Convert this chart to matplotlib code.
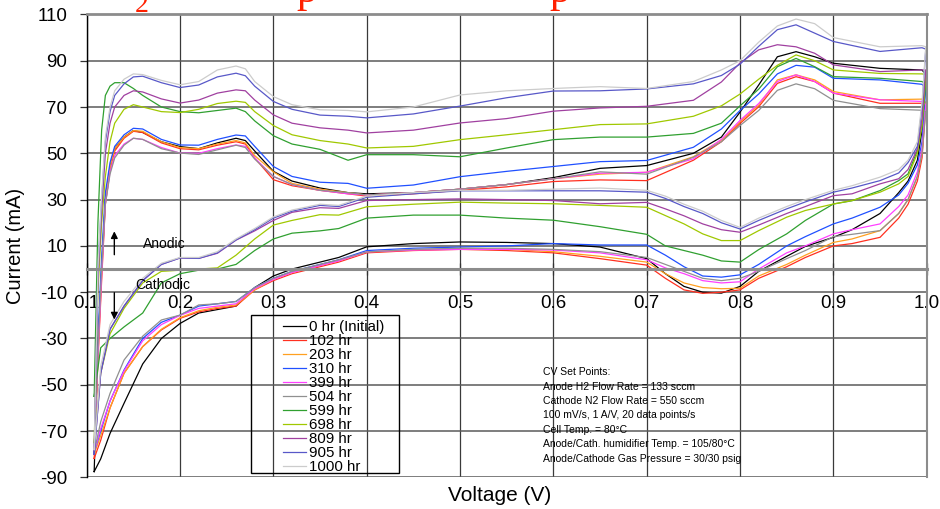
import matplotlib
matplotlib.use("Agg")
import matplotlib.pyplot as plt
from matplotlib.patches import Rectangle

plt.rcParams["font.family"] = ["Liberation Sans", "DejaVu Sans"]
plt.rcParams["axes.unicode_minus"] = False

# sweep voltages (V): forward (anodic) and reverse (cathodic)
V_FWD = [0.112, 0.116, 0.12, 0.125, 0.13, 0.14, 0.15, 0.16, 0.18, 0.2, 0.22, 0.24,
         0.26, 0.27, 0.28, 0.3, 0.32, 0.35, 0.38, 0.4, 0.45, 0.5, 0.55, 0.6, 0.65,
         0.7, 0.75, 0.78, 0.8, 0.82, 0.84, 0.86, 0.88, 0.9, 0.95, 0.995]
V_REV = [0.999, 0.995, 0.99, 0.98, 0.97, 0.95, 0.92, 0.9, 0.87, 0.85, 0.82, 0.8,
         0.78, 0.76, 0.74, 0.72, 0.7, 0.65, 0.6, 0.55, 0.5, 0.45, 0.4, 0.37, 0.35,
         0.32, 0.3, 0.28, 0.26, 0.24, 0.22, 0.2, 0.18, 0.16, 0.14, 0.125, 0.115, 0.108]

labels = ["0 hr (Initial)", "102 hr", "203 hr", "310 hr", "399 hr", "504 hr",
          "599 hr", "698 hr", "809 hr", "905 hr", "1000 hr"]
colors = ["#000000", "#ff3020", "#ffa020", "#2050ff", "#ff40ff", "#909090",
          "#30a030", "#a0c800", "#a040a0", "#5858c8", "#cccccc"]

# anodic branch currents (mA)
fwd_0 = [-35, 0, 30, 44, 52, 57, 59.8, 59, 55, 52.9, 52, 54.5, 56.5, 55.5, 51, 42.2, 38, 35,
         33, 32.5, 33, 34.5, 36.5, 39.5, 43.5, 44.7, 50, 57, 67.8, 79.5, 91.7, 93.9, 91.7,
         88.9, 86.7, 86]
fwd_102 = [-40, -5, 28, 43, 51, 56.5, 59.5, 59, 54.5, 52, 51.5, 53.5, 55, 54, 48, 38.6, 36,
           34, 32.5, 31.5, 32.5, 34, 35.5, 37.8, 38.5, 38.2, 47, 55, 62.9, 70.1, 80.2, 83.1,
           81, 76, 71.6, 71.6]
fwd_203 = [-38, -2, 30, 44, 52, 57, 59.8, 59.5, 55, 52.5, 52, 54, 55.5, 54.5, 49, 42, 37,
           34.5, 33, 32, 33, 34.5, 36.5, 39, 41, 41.8, 48.5, 55.7, 63.6, 70.8, 81.7, 83.9,
           81.7, 76.7, 73.1, 73.4]
fwd_310 = [-30, 5, 33, 46, 53, 58, 60.8, 60.5, 56, 53.6, 53.5, 56, 57.9, 57.5, 53, 44.3, 40,
           37.5, 37, 34.9, 36.3, 39.9, 42.2, 44.3, 46.4, 46.9, 52.6, 60.5, 68.5, 75.6, 84.3,
           88, 87.2, 82.4, 81.7, 79.8]
fwd_399 = [-38, -3, 28, 42, 49, 54, 56.5, 56, 52.5, 50.1, 50, 52, 53.6, 53, 48, 40, 36.5, 34,
           32.5, 32, 33, 34.5, 36.5, 39, 41.4, 41.8, 47.6, 56, 64.2, 71.5, 81, 83.9, 81, 76,
           73.1, 72.4]
fwd_504 = [-35, 0, 28, 41, 48, 53.5, 56.5, 56, 52, 50.1, 49.5, 51.5, 53.5, 52.5, 47.5, 40,
           36.5, 34, 33, 32, 33, 34.5, 36.5, 39, 42, 41, 48.3, 55, 62, 68.5, 77.2, 80, 77.9,
           72.9, 69.3, 68.6]
fwd_599 = [20, 60, 75, 79, 80.5, 80.5, 78, 75, 70, 68, 67.5, 68.5, 69.5, 68, 64, 57.6, 54,
           51.7, 47, 49.4, 49.4, 48.5, 52.3, 55.9, 57, 57, 58.6, 63, 70.5, 77.7, 87.4, 91,
           87.4, 83.1, 82.4, 81]
fwd_698 = [-10, 20, 40, 55, 63, 69, 71, 70, 68, 67.6, 69, 71.5, 72.5, 72, 68, 62, 58, 55.5,
           54, 52.3, 53, 55.9, 58, 60.2, 62.4, 62.7, 66, 70.5, 75.6, 82, 88, 92.5, 90, 86,
           84.5, 84.3]
fwd_809 = [-5, 25, 50, 63, 70, 75, 77, 76.5, 73.5, 71.7, 73, 76, 77.4, 77, 73, 66.6, 63, 61,
           60, 58.8, 60, 63.1, 65, 68.2, 69.6, 70.3, 72.9, 80.8, 89, 94.7, 96.9, 96, 93.2,
           88.2, 85.3, 86]
fwd_905 = [0, 30, 55, 68, 75, 80, 83, 83.3, 80.5, 78.4, 79.5, 83, 84.6, 83.5, 79, 72.4, 69,
           66.5, 66, 65.3, 67, 70.4, 74, 76.9, 77, 77.8, 80, 83.6, 88.5, 96.2, 103.4, 105.5,
           101.9, 98.3, 94, 95.6]
fwd_1000 = [0, 32, 57, 70, 77, 82, 84.3, 84, 81.5, 79.6, 81, 86, 87.7, 86.5, 81, 74.5, 71,
            68.8, 68.5, 67.9, 70, 75.2, 77, 78, 78.8, 78, 81, 86, 90, 98, 105, 108, 106, 100,
            96, 96.5]

# cathodic branch currents (mA)
rev_0 = [84, 60, 47, 38, 33, 24, 17, 13.7, 9.8, 5.5, -1, -7.5, -10.4, -10, -7.5, -2, 4.5,
         9.5, 11, 11.5, 11.7, 11, 9.6, 5, 3, 0, -3, -8, -16, -17.5, -19, -23.5, -30, -41,
         -58, -71, -82, -87.5]
rev_102 = [70, 48, 38, 28, 22, 13.7, 11, 10, 5, 1, -4, -9, -10, -10.5, -9, -4, 1.7, 4.5, 7,
           8, 8.5, 8, 7, 3, 1, -2, -5, -9, -16, -17, -18.5, -21.3, -26.3, -33.5, -45, -60,
           -74, -81.8]
rev_203 = [72, 50, 40, 30, 24, 16.6, 13, 11.5, 6, 2, -3, -8.3, -8.5, -8, -6, -2, 3, 5.5, 7.5,
           8.5, 8.8, 8.3, 7.4, 3.5, 1.5, -1.5, -4.5, -9, -15.5, -16.5, -18, -21, -26, -33.5,
           -45, -60, -72, -80]
rev_310 = [78, 55, 45, 37, 32, 26.7, 22, 19.5, 14, 10, 2, -2.5, -3.5, -3, 1, 6, 10.4, 10.4,
           11, 10, 9.5, 9, 8, 4, 2, -1, -4, -8, -14, -15, -16, -19.9, -23, -30, -43.6, -57,
           -70, -79]
rev_399 = [71, 52, 42, 32, 27, 19.5, 17, 15.2, 10, 7, 0, -5.5, -6, -5, -2, 0.5, 4, 7, 8.2,
           8.5, 8.5, 8.2, 7.4, 3.5, 1.5, -1.5, -4.5, -8.5, -15, -16, -17, -20, -24, -31, -44,
           -57, -69, -79]
rev_504 = [68, 50, 40, 30, 24, 16.6, 15, 14, 8, 4.5, -1, -4, -5, -4, -1, 2, 5, 7.5, 8.5, 9, 9,
           8.5, 7.4, 4, 2, -1, -4, -8, -14, -15, -15.5, -19.9, -22, -29, -39.3, -53.7, -66,
           -79]
rev_599 = [80, 62, 51.2, 41.1, 38.2, 33.9, 29.5, 28.1, 21, 15.2, 8.4, 3, 3.5, 6, 8, 10, 15,
           18.3, 21.1, 22, 23.3, 23.3, 22, 17.5, 16.5, 15.5, 13, 8, 2, 0, -0.5, -2, -6, -19,
           -25, -30, -34, -55]
rev_698 = [84, 62, 50, 40, 36.8, 33.2, 29.6, 28.1, 25.3, 22.4, 16.6, 12.3, 12.3, 15.2, 19.5,
           23.1, 26.7, 27.5, 28.2, 28.5, 28.9, 28, 26.9, 23.3, 23.5, 21, 19, 13, 6, 0.5, 0,
           -0.5, -1, -6, -17, -28, -45, -75]
rev_809 = [86, 65, 52, 43, 39, 36.8, 32.5, 31.7, 27, 24, 19, 15.9, 17, 19.5, 23, 26, 28.8,
           28.2, 29.6, 30, 30.3, 30, 29.6, 26.2, 26.5, 24.5, 21, 16.5, 12.5, 6.8, 4.6, 4.8, 2,
           -5, -16, -26, -45, -80]
rev_905 = [95, 70, 53, 46, 41.5, 38.2, 35, 33.2, 29, 26, 21, 17.3, 20, 24, 27, 30.5, 33.2,
           33.8, 33.8, 33.8, 33.8, 32.5, 31, 27, 27.5, 25, 22, 17, 12.6, 7, 4.6, 4.8, 2, -5,
           -16, -26, -45, -80]
rev_1000 = [96, 72, 55, 47, 43, 39.7, 36, 34, 30, 27, 22, 18, 21, 25, 28, 31.5, 34, 35, 34.5,
            34, 34, 33, 31.5, 27.5, 28, 25.5, 22.5, 17.5, 13, 7.5, 5, 5, 2.5, -4, -14, -24,
            -42, -78]

fwd_all = [fwd_0, fwd_102, fwd_203, fwd_310, fwd_399, fwd_504,
           fwd_599, fwd_698, fwd_809, fwd_905, fwd_1000]
rev_all = [rev_0, rev_102, rev_203, rev_310, rev_399, rev_504,
           rev_599, rev_698, rev_809, rev_905, rev_1000]

setpoint_lines = [
    "CV Set Points:",
    "Anode H2 Flow Rate = 133 sccm",
    "Cathode N2 Flow Rate = 550 sccm",
    "100 mV/s, 1 A/V, 20 data points/s",
    "Cell Temp. = 80\u00b0C",
    "Anode/Cath. humidifier Temp. = 105/80\u00b0C",
    "Anode/Cathode Gas Pressure = 30/30 psig",
]

W, H = 940, 509
fig = plt.figure(figsize=(W / 100, H / 100), dpi=100)
ax = fig.add_axes([86.7 / W, 1 - 477.4 / H, 840 / W, 463 / H])

for fwd, rev, lab, col in zip(fwd_all, rev_all, labels, colors):
    # closed loop: cathodic end -> anodic sweep -> cathodic sweep
    v = [V_REV[-1]] + V_FWD + V_REV
    cur = [rev[-1]] + fwd + rev
    ax.plot(v, cur, color=col, lw=0.9, label=lab)

ax.set_xlim(0.1, 1.0)
ax.set_ylim(-90, 110)
ax.set_xticks([0.1, 0.2, 0.3, 0.4, 0.5, 0.6, 0.7, 0.8, 0.9, 1.0])
ax.set_xticklabels(["0.1", "0.2", "0.3", "0.4", "0.5", "0.6", "0.7", "0.8", "0.9", "1.0"])
ax.set_yticks(range(-90, 111, 20))

ax.grid(axis="x", color="#3a3a3a", lw=0.9)
ax.grid(axis="y", color="#5a5a5a", lw=1.1)
ax.set_axisbelow(True)

ax.spines["bottom"].set_position(("data", 0))
ax.spines["bottom"].set_color("#8c8c8c")
ax.spines["bottom"].set_linewidth(2.2)
ax.spines["top"].set_color("#8c8c8c")
ax.spines["top"].set_linewidth(2)
ax.spines["right"].set_color("#8c8c8c")
ax.spines["right"].set_linewidth(1.5)
ax.spines["left"].set_color("black")
ax.spines["left"].set_linewidth(1)

ax.tick_params(axis="x", direction="inout", length=8, width=0.9, color="#333333",
               labelsize=13.5, pad=15)
ax.tick_params(axis="y", direction="out", length=5, width=0.9, color="#333333",
               labelsize=13.5, pad=9)

ax.set_xlabel("Voltage (V)", fontsize=15)
ax.xaxis.set_label_coords((500 - 86.7) / 840, (477.4 - 486) / 463)
ax.set_ylabel("Current (mA)", fontsize=14.5)
ax.yaxis.set_label_coords((25 - 86.7) / 840, 0.5)

# Anodic / Cathodic markers
ax.annotate("", xy=(0.1296, 17.5), xytext=(0.1296, 5),
            arrowprops=dict(arrowstyle="-|>", color="black", lw=1, mutation_scale=10))
ax.annotate("", xy=(0.1296, -23), xytext=(0.1296, -9),
            arrowprops=dict(arrowstyle="-|>", color="black", lw=1, mutation_scale=10))
ax.text(0.1607, 10.8, "Anodic", fontsize=10, va="center")
ax.text(0.152, -6.9, "Cathodic", fontsize=10, va="center")

# set point notes
for k, line in enumerate(setpoint_lines):
    ax.text(0.589, -44.5 - k * 6.24, line, fontsize=7.5, va="center")

# legend with its own frame
leg = ax.legend(loc="upper left", bbox_to_anchor=((283 - 86.7) / 840, (477.4 - 320) / 463),
                frameon=False, fontsize=10.8, handlelength=1.55, handletextpad=0.2,
                labelspacing=0.0, borderpad=0, borderaxespad=0)
fig.patches.append(Rectangle((250.7 / W, 1 - 473.3 / H), (399 - 250.7) / W, (473.3 - 315) / H,
                             transform=fig.transFigure, fill=False, edgecolor="black", lw=1,
                             zorder=5))

# clipped red slide title fragments at the very top
red_kw = dict(color="#ff2000", family="Liberation Serif", va="baseline")
fig.text(135 / W, 1 - 12 / H, "2", fontsize=20, **red_kw)
fig.text(296 / W, 1 - 2 / H, "p", fontsize=30, **red_kw)
fig.text(549 / W, 1 - 2 / H, "p", fontsize=30, **red_kw)

fig.savefig("out.png", dpi=100)
